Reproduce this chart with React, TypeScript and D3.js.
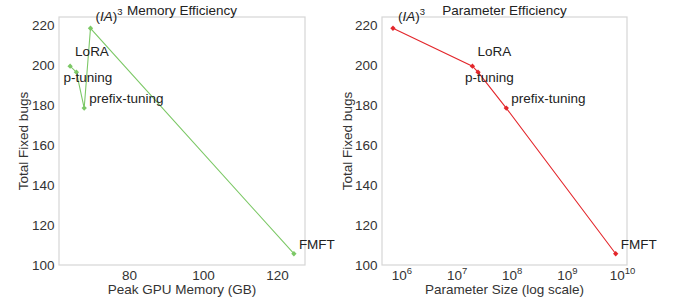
import React, { useEffect, useRef } from 'react';
import * as d3 from 'd3';

// methods in order of increasing memory
const methods = ['LoRA', 'p-tuning', 'prefix-tuning', '(IA)3', 'FMFT'];
const peakMemoryGB = [64.0, 65.7, 67.8, 69.5, 124.4];
const paramSize = [1.9e7, 2.4e7, 7.8e7, 6.9e5, 7.5e9];
const fixedBugs = [199.5, 196.5, 178.5, 218.5, 105.5];

const memTicks = [80, 100, 120];
const paramTicks = [1e6, 1e7, 1e8, 1e9, 1e10];
const bugTicks = [100, 120, 140, 160, 180, 200, 220];

// label offsets in px, relative to the point
const labelOffset: Record<string, [number, number]> = {
  LoRA: [5, -10],
  'p-tuning': [-13, 10],
  'prefix-tuning': [5, -5],
  '(IA)3': [5, -7],
  FMFT: [5, -5],
};

const FONT = '"Liberation Sans", Arial, sans-serif';
const FS = '13.5px';

const App: React.FC = () => {
  const svgRef = useRef<SVGSVGElement>(null);

  useEffect(() => {
    if (!svgRef.current) return;
    const root = d3.select(svgRef.current);
    root.selectAll('*').remove();

    const top = 17;
    const bottom = 265;

    const yScale = d3.scaleLinear().domain([99.85, 224.15]).range([bottom, top]);

    const drawPanel = (
      left: number,
      right: number,
      xs: number[],
      xScale: any,
      ticks: number[],
      tickFmt: (v: number, sel: any) => void,
      color: string,
      title: string,
      xLabel: string,
      yLabelX: number
    ) => {
      const g = root.append('g').style('font-family', FONT);

      // frame
      g.append('rect')
        .attr('x', left)
        .attr('y', top)
        .attr('width', right - left)
        .attr('height', bottom - top)
        .attr('fill', 'white')
        .attr('stroke', '#d6d6d6')
        .attr('stroke-width', 1.2);

      // y ticks
      g.selectAll('.ytick')
        .data(bugTicks)
        .enter()
        .append('text')
        .attr('x', left - 4.5)
        .attr('y', (d) => yScale(d) + 4.8)
        .attr('text-anchor', 'end')
        .style('font-size', FS)
        .style('fill', '#333')
        .text((d) => d);

      // x ticks
      ticks.forEach((t) => {
        const tx = g
          .append('text')
          .attr('x', xScale(t))
          .attr('y', bottom + 15)
          .attr('text-anchor', 'middle')
          .style('font-size', FS)
          .style('fill', '#333');
        tickFmt(t, tx);
      });

      // axis labels
      g.append('text')
        .attr('x', (left + right) / 2)
        .attr('y', bottom + 29)
        .attr('text-anchor', 'middle')
        .style('font-size', FS)
        .style('fill', '#333')
        .text(xLabel);

      g.append('text')
        .attr('transform', `translate(${yLabelX},${(top + bottom) / 2}) rotate(-90)`)
        .attr('text-anchor', 'middle')
        .style('font-size', FS)
        .style('fill', '#333')
        .text('Total Fixed bugs');

      g.append('text')
        .attr('x', (left + right) / 2)
        .attr('y', 15)
        .attr('text-anchor', 'middle')
        .style('font-size', FS)
        .style('fill', '#222')
        .text(title);

      const pts = methods
        .map((m, i) => ({ m, x: xs[i], y: fixedBugs[i] }))
        .sort((a, b) => a.x - b.x);

      const line = d3
        .line<(typeof pts)[0]>()
        .x((d) => xScale(d.x))
        .y((d) => yScale(d.y));

      g.append('path')
        .datum(pts)
        .attr('fill', 'none')
        .attr('stroke', color)
        .attr('stroke-width', 1.1)
        .attr('d', line);

      g.selectAll('.pt')
        .data(pts)
        .enter()
        .append('path')
        .attr('d', d3.symbol(d3.symbolDiamond2, 18)())
        .attr('transform', (d) => `translate(${xScale(d.x)},${yScale(d.y)})`)
        .attr('fill', color);

      pts.forEach((d) => {
        const [dx, dy] = labelOffset[d.m];
        const t = g
          .append('text')
          .attr('x', xScale(d.x) + dx)
          .attr('y', yScale(d.y) + dy)
          .style('font-size', FS)
          .style('fill', '#222');
        if (d.m === '(IA)3') {
          t.append('tspan').text('(');
          t.append('tspan').style('font-style', 'italic').text('IA');
          t.append('tspan').text(')');
          t.append('tspan').attr('dy', -6).style('font-size', '9.5px').text('3');
        } else {
          t.text(d.m);
        }
      });
    };

    const memScale = d3.scaleLinear().domain([61.0, 127.4]).range([59, 305]);
    drawPanel(
      59,
      305,
      peakMemoryGB,
      memScale,
      memTicks,
      (v, sel) => sel.text(v),
      '#7cc866',
      'Memory Efficiency',
      'Peak GPU Memory (GB)',
      28
    );

    const paramScale = d3.scaleLog().domain([10 ** 5.64, 10 ** 10.08]).range([382, 627]);
    drawPanel(
      382,
      627,
      paramSize,
      paramScale,
      paramTicks,
      (v, sel) => {
        sel.append('tspan').text('10');
        sel
          .append('tspan')
          .attr('dy', -6)
          .style('font-size', '9.5px')
          .text(Math.round(Math.log10(v)));
      },
      '#e3262b',
      'Parameter Efficiency',
      'Parameter Size (log scale)',
      352
    );
  }, []);

  return (
    <div style={{ position: 'absolute', left: 0, top: 0 }}>
      <svg ref={svgRef} width={683} height={308} style={{ display: 'block', background: 'white' }} />
    </div>
  );
};

export default App;
